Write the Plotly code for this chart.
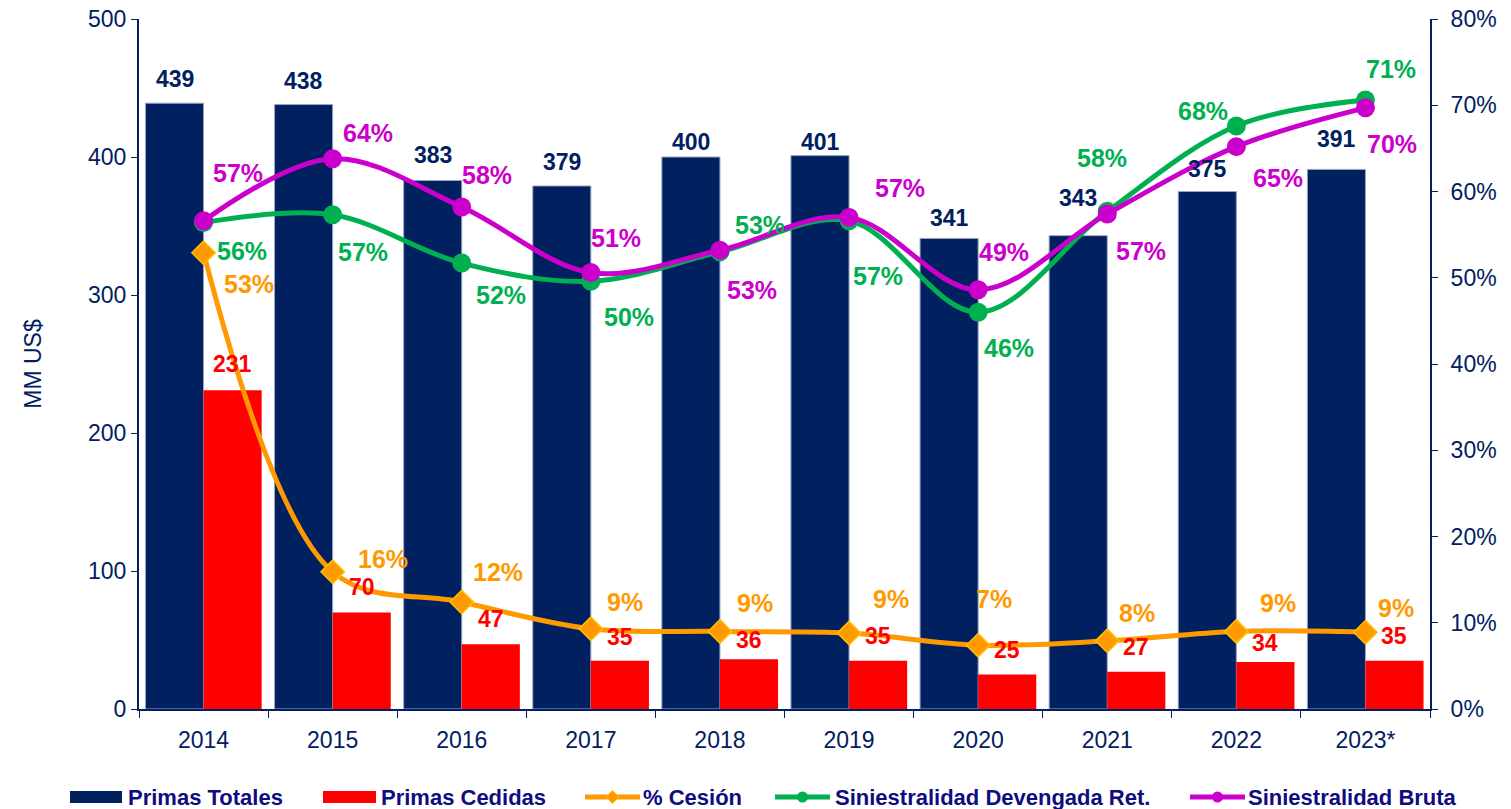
import plotly.graph_objects as go

years = ["2014", "2015", "2016", "2017", "2018", "2019", "2020", "2021", "2022", "2023*"]
primas_totales = [439, 438, 383, 379, 400, 401, 341, 343, 375, 391]
primas_cedidas = [231, 70, 47, 35, 36, 35, 25, 27, 34, 35]
pct_cesion = [52.9, 15.9, 12.4, 9.3, 9.0, 8.8, 7.4, 7.9, 9.0, 8.9]
sin_devengada = [56.4, 57.3, 51.7, 49.6, 53.0, 56.6, 46.0, 57.7, 67.6, 70.6]
sin_bruta = [56.6, 63.8, 58.2, 50.6, 53.2, 57.0, 48.6, 57.4, 65.2, 69.7]

# label nudges (pixels): (dx, dy-down)
off_totales = [24, 24, 25, 24, 15, 14, 20, 38, 23, 30]
off_cedidas = [26, 25, 25, 24, 19, 25, 25, 25, 19, 25]
off_cesion = [(45, 31), (50, -13), (36, -30), (34, -27), (35, -28), (42, -34), (16, -46), (30, -28), (42, -28), (31, -24)]
off_dev = [(38, 28), (30, 37), (39, 32), (38, 36), (40, -27), (29, 55), (31, 36), (-5, -53), (-33, -15), (26, -31)]
off_bruta = [(34, -48), (35, -26), (25, -32), (25, -35), (32, 40), (51, -29), (26, -38), (34, 37), (42, 31), (27, 36)]

NAVY = "#002060"
RED = "#FF0000"
ORANGE = "#FF9900"
GREEN = "#00B050"
MAGENTA = "#CC00CC"
FONT = "Liberation Sans, Arial, sans-serif"
LEGTXT = "#0D0D80"

fig = go.Figure()
fig.add_trace(go.Bar(x=years, y=primas_totales, name="Primas Totales",
                     marker=dict(color=NAVY, line=dict(color="#9AA6C4", width=1))))
fig.add_trace(go.Bar(x=years, y=primas_cedidas, name="Primas Cedidas",
                     marker=dict(color=RED, line=dict(width=0))))
fig.add_trace(go.Scatter(x=years, y=pct_cesion, yaxis="y2", name="% Cesión", mode="lines+markers",
                         line=dict(color=ORANGE, width=5, shape="spline", smoothing=1.0),
                         marker=dict(symbol="diamond", size=18, color=ORANGE, line=dict(color="#FFC000", width=1.5))))
fig.add_trace(go.Scatter(x=years, y=sin_devengada, yaxis="y2", name="Siniestralidad Devengada Ret.", mode="lines+markers",
                         line=dict(color=GREEN, width=5, shape="spline", smoothing=1.0),
                         marker=dict(symbol="circle", size=19, color=GREEN)))
fig.add_trace(go.Scatter(x=years, y=sin_bruta, yaxis="y2", name="Siniestralidad Bruta", mode="lines+markers",
                         line=dict(color=MAGENTA, width=5, shape="spline", smoothing=1.0),
                         marker=dict(symbol="circle", size=19, color=MAGENTA)))

ann = []
for i, yv in enumerate(years):
    # category index i is the position of years[i] on the category axis
    ann.append(dict(x=i, y=primas_totales[i], xref="x", yref="y", text=f"<b>{primas_totales[i]}</b>",
                    showarrow=False, xshift=-29, yshift=off_totales[i],
                    font=dict(family=FONT, size=23, color=NAVY)))
    ann.append(dict(x=i, y=primas_cedidas[i], xref="x", yref="y", text=f"<b>{primas_cedidas[i]}</b>",
                    showarrow=False, xshift=29, yshift=off_cedidas[i],
                    font=dict(family=FONT, size=23, color=RED)))
    for vals, offs, col in ((pct_cesion, off_cesion, ORANGE), (sin_devengada, off_dev, GREEN), (sin_bruta, off_bruta, MAGENTA)):
        ann.append(dict(x=i, y=vals[i], xref="x", yref="y2", text=f"<b>{round(vals[i])}%</b>",
                        showarrow=False, xshift=offs[i][0], yshift=-offs[i][1],
                        font=dict(family=FONT, size=25, color=col)))

# manual legend (plot-area pixel geometry: x0=139, width=1291; y0=709, height=690)
PW, PH = 1291.0, 690.0

def fx(xp):
    return (xp - 139) / PW

def fy(yp):
    return (709 - yp) / PH

shapes = []
LEG_Y = 797
legend_items = [
    ("rect", NAVY, 70, 122, "Primas Totales", 126),
    ("rect", RED, 323, 376, "Primas Cedidas", 379),
    ("diamond", ORANGE, 585, 640, "% Cesión", 641),
    ("circle", GREEN, 775, 830, "Siniestralidad Devengada Ret.", 833),
    ("circle", MAGENTA, 1190, 1245, "Siniestralidad Bruta", 1246),
]
for kind, col, x0, x1, label, tx in legend_items:
    if kind == "rect":
        shapes.append(dict(type="rect", xref="paper", yref="paper", x0=fx(x0), x1=fx(x1),
                           y0=fy(LEG_Y + 6), y1=fy(LEG_Y - 6), fillcolor=col, line=dict(width=0), layer="above"))
    else:
        shapes.append(dict(type="line", xref="paper", yref="paper", x0=fx(x0), x1=fx(x1),
                           y0=fy(LEG_Y), y1=fy(LEG_Y), line=dict(color=col, width=5), layer="above"))
        xc = (x0 + x1) / 2
        if kind == "circle":
            shapes.append(dict(type="circle", xref="paper", yref="paper",
                               x0=fx(xc - 5.5), x1=fx(xc + 5.5), y0=fy(LEG_Y + 5.5), y1=fy(LEG_Y - 5.5),
                               fillcolor=col, line=dict(width=0), layer="above"))
        else:
            path = (f"M {fx(xc - 6.5)} {fy(LEG_Y)} L {fx(xc)} {fy(LEG_Y - 6.5)} "
                    f"L {fx(xc + 6.5)} {fy(LEG_Y)} L {fx(xc)} {fy(LEG_Y + 6.5)} Z")
            shapes.append(dict(type="path", xref="paper", yref="paper", path=path,
                               fillcolor=col, line=dict(color="#FFC000", width=1), layer="above"))
    ann.append(dict(x=fx(tx), y=fy(LEG_Y), xref="paper", yref="paper", text=f"<b>{label}</b>",
                    showarrow=False, xanchor="left", yanchor="middle",
                    font=dict(family=FONT, size=22, color=LEGTXT)))

fig.update_layout(
    width=1511, height=809,
    margin=dict(l=139, r=81, t=19, b=100, autoexpand=False),
    paper_bgcolor="white", plot_bgcolor="white",
    barmode="group", bargap=0.1, bargroupgap=0,
    showlegend=False,
    font=dict(family=FONT, color=NAVY),
    xaxis=dict(type="category", categoryorder="array", categoryarray=years, range=[-0.5, len(years) - 0.5],
               tickson="boundaries", ticks="outside", ticklen=7, tickcolor=NAVY, automargin=False,
               ticklabelstandoff=9,
               showline=True, linecolor=NAVY, linewidth=2, showgrid=False,
               tickfont=dict(family=FONT, size=23, color=NAVY)),
    yaxis=dict(range=[0, 500], dtick=100, ticks="outside", ticklen=6, tickcolor=NAVY, automargin=False,
               showline=True, linecolor=NAVY, linewidth=2, showgrid=False, zeroline=False,
               tickfont=dict(family=FONT, size=23, color=NAVY),
               title=dict(text="MM US$", font=dict(family=FONT, size=23, color=NAVY), standoff=40)),
    yaxis2=dict(range=[0, 80], dtick=10, ticksuffix="%", overlaying="y", side="right",
                ticks="outside", ticklen=6, tickcolor=NAVY, automargin=False, ticklabelstandoff=8,
                showline=True, linecolor=NAVY, linewidth=2, showgrid=False, zeroline=False,
                tickfont=dict(family=FONT, size=23, color=NAVY)),
    annotations=ann,
    shapes=shapes,
)

fig.write_html("out.html", config={"displayModeBar": False},
               post_script="document.body.style.margin='0';document.body.style.overflow='hidden';")
